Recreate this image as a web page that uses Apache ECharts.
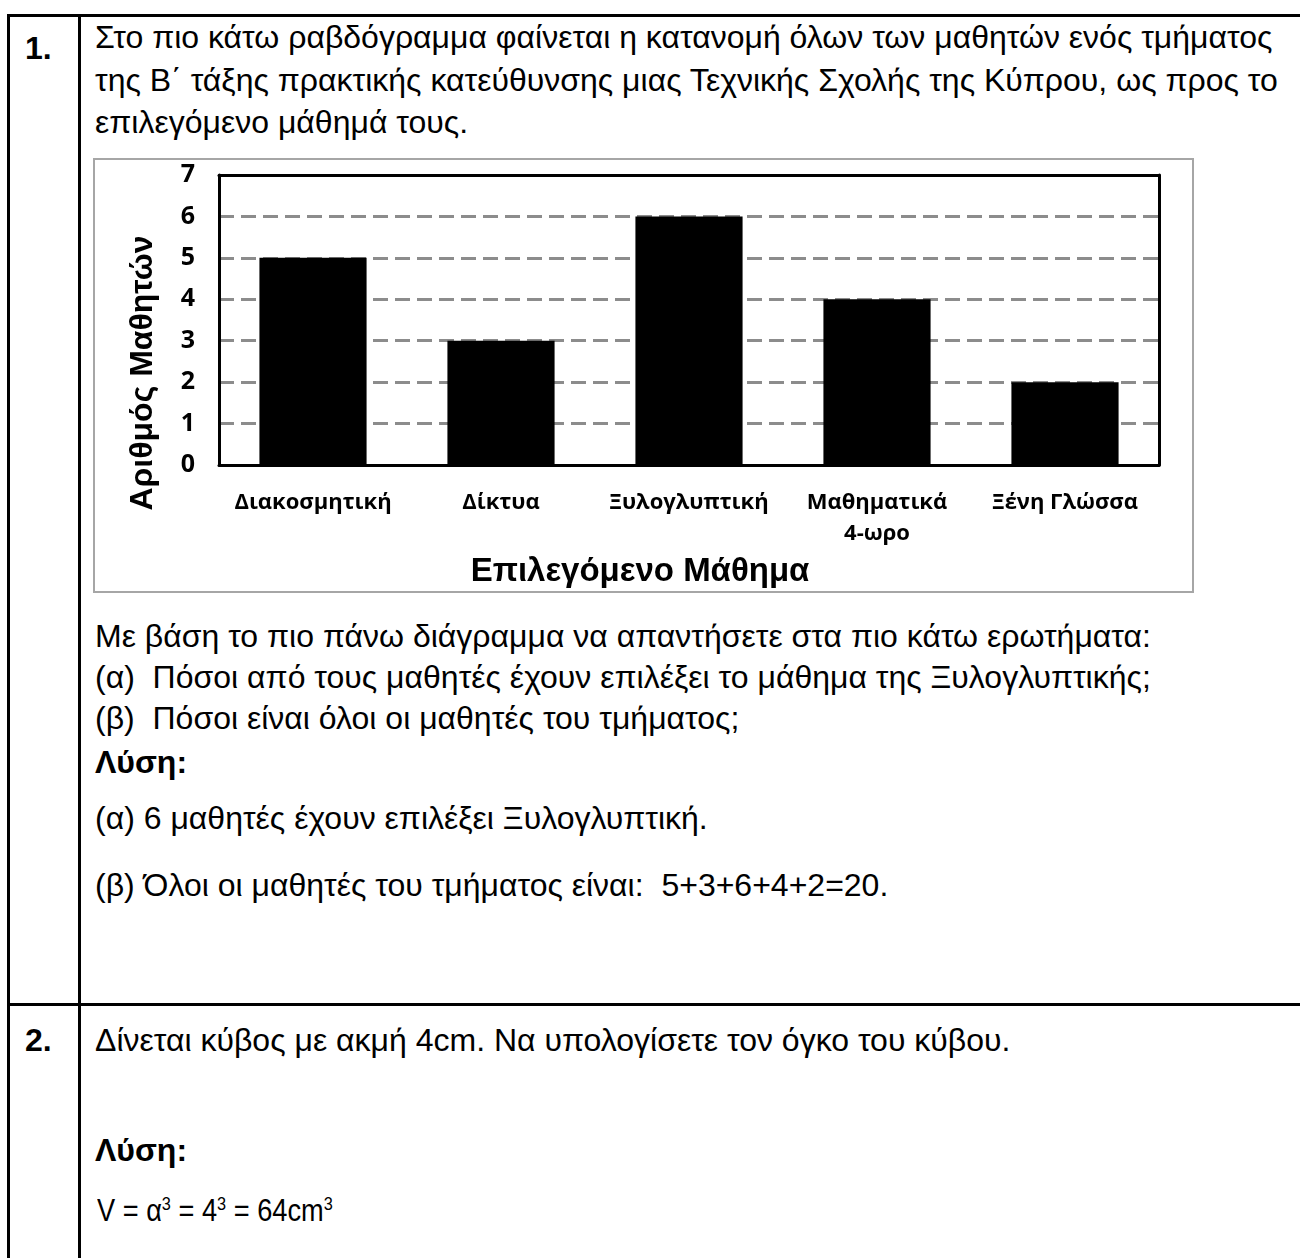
<!DOCTYPE html>
<html>
<head>
<meta charset="utf-8">
<script src="https://cdn.jsdelivr.net/npm/echarts@6/dist/echarts.min.js"></script>
<style>
  body { margin: 0; width: 1300px; height: 1258px; overflow: hidden; background: #fff; position: relative;
         font-family: "Liberation Sans", Arial, sans-serif; color: #000; }
  .t { position: absolute; left: 95px; white-space: nowrap; font-size: 32px; line-height: 42px; }
  .b { font-weight: bold; }
  .ln { position: absolute; background: #000; }
  #chart { position: absolute; left: 93px; top: 158px; width: 1097px; height: 431px; border: 2px solid #a6a6a6; }
  .eq { transform: scaleX(0.85); transform-origin: 0 50%; }
  sup { font-size: 60%; vertical-align: 0; position: relative; top: -0.55em; }
</style>
</head>
<body>
<div class="ln" style="left:7px;top:14px;width:1293px;height:3px"></div>
<div class="ln" style="left:7px;top:14px;width:3px;height:1244px"></div>
<div class="ln" style="left:78px;top:14px;width:3px;height:1244px"></div>
<div class="ln" style="left:7px;top:1003px;width:1293px;height:3px"></div>

<div class="t b" style="left:25px;top:27px">1.</div>
<div class="t" style="top:16px">Στο πιο κάτω ραβδόγραμμα φαίνεται η κατανομή όλων των μαθητών ενός τμήματος</div>
<div class="t" style="top:59px">της Β΄ τάξης πρακτικής κατεύθυνσης μιας Τεχνικής Σχολής της Κύπρου, ως προς το</div>
<div class="t" style="top:101px">επιλεγόμενο μάθημά τους.</div>

<div id="chart"></div>

<div class="t" style="top:615px">Με βάση το πιο πάνω διάγραμμα να απαντήσετε στα πιο κάτω ερωτήματα:</div>
<div class="t" style="top:656px">(α)&nbsp; Πόσοι από τους μαθητές έχουν επιλέξει το μάθημα της Ξυλογλυπτικής;</div>
<div class="t" style="top:697px">(β)&nbsp; Πόσοι είναι όλοι οι μαθητές του τμήματος;</div>
<div class="t b" style="top:741px">Λύση:</div>
<div class="t" style="top:797px">(α) 6 μαθητές έχουν επιλέξει Ξυλογλυπτική.</div>
<div class="t" style="top:864px">(β) Όλοι οι μαθητές του τμήματος είναι:&nbsp; 5+3+6+4+2=20.</div>

<div class="t b" style="left:25px;top:1019px">2.</div>
<div class="t" style="top:1019px">Δίνεται κύβος με ακμή 4cm. Να υπολογίσετε τον όγκο του κύβου.</div>
<div class="t b" style="top:1129px">Λύση:</div>
<div class="t eq" style="top:1189px;left:97px">V = α<sup>3</sup> = 4<sup>3</sup> = 64cm<sup>3</sup></div>

<script>
  // data
  var categories = ['Διακοσμητική', 'Δίκτυα', 'Ξυλογλυπτική', 'Μαθηματικά\n4-ωρο', 'Ξένη Γλώσσα'];
  var students = [5, 3, 6, 4, 2];
  var yTicks = [0, 1, 2, 3, 4, 5, 6, 7];

  var lblFont = { fontFamily: 'Open Sans', fontWeight: 'bold', fontSize: 22, color: '#000' };
  var borderLine = { show: true, onZero: false, lineStyle: { color: '#000', width: 3 } };

  var chart = echarts.init(document.getElementById('chart'), null, { renderer: 'canvas' });
  chart.setOption({
    animation: false,
    grid: { left: 124, top: 15, right: 33, bottom: 126 },
    xAxis: [
      {
        type: 'category',
        data: categories,
        z: 1,
        axisLine: borderLine,
        axisTick: { show: false },
        axisLabel: Object.assign({ margin: 22, lineHeight: 31, interval: 0 }, lblFont)
      },
      {
        type: 'category',
        position: 'top',
        data: categories,
        z: 1,
        axisLine: borderLine,
        axisTick: { show: false },
        axisLabel: { show: false }
      }
    ],
    yAxis: [
      {
        type: 'value',
        min: yTicks[0],
        max: yTicks[yTicks.length - 1],
        interval: 1,
        axisLine: borderLine,
        axisTick: { show: false },
        axisLabel: Object.assign({}, lblFont, { margin: 24, fontSize: 25 }),
        splitLine: { show: true, lineStyle: { color: '#8c8c8c', width: 3, type: [15, 7] } }
      },
      {
        type: 'value',
        position: 'right',
        z: 1,
        min: yTicks[0],
        max: yTicks[yTicks.length - 1],
        interval: 1,
        axisLine: borderLine,
        axisTick: { show: false },
        axisLabel: { show: false },
        splitLine: { show: false }
      }
    ],
    graphic: [
      {
        type: 'text', x: 48, y: 213, rotation: Math.PI / 2,
        style: { text: 'Αριθμός Μαθητών', font: 'bold 32px "Liberation Sans"', fill: '#000',
                 align: 'center', verticalAlign: 'middle' }
      },
      {
        type: 'text', x: 545, y: 412,
        style: { text: 'Επιλεγόμενο Μάθημα', font: 'bold 33px "Liberation Sans"', fill: '#000',
                 align: 'center', verticalAlign: 'middle' }
      }
    ],
    series: [
      {
        type: 'bar',
        data: students,
        barWidth: '57%',
        itemStyle: { color: '#000' }
      }
    ]
  });
</script>
</body>
</html>
